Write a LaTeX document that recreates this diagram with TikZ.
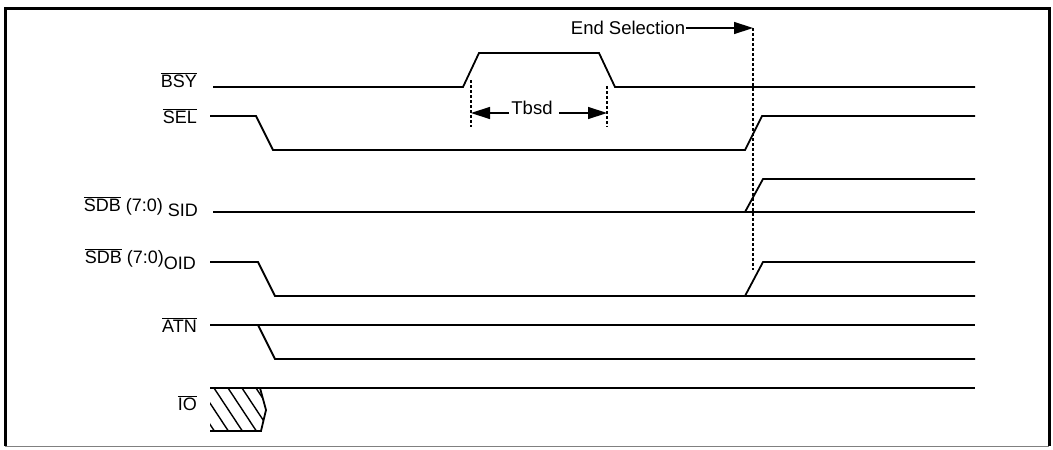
\documentclass[tikz,border=0pt]{standalone}
\usepackage{fontspec}
\setmainfont{Liberation Sans}
\usetikzlibrary{arrows.meta,positioning}
\newcommand\ovl[1]{$\overline{\mbox{#1}}$}

\begin{document}
\begin{tikzpicture}[x=1pt,y=-1pt,
  sig/.style={line width=1.8pt},
  guide/.style={line width=1.2pt,dash pattern=on 2.5pt off 2.5pt},
  lbl/.style={anchor=base east,inner sep=0pt,font=\fontsize{18}{20}\selectfont},
  txt/.style={inner sep=0pt,font=\fontsize{18.5}{20}\selectfont},
  dim/.style={line width=1.4pt,-{Triangle[length=19pt,width=12pt]}}]
  \useasboundingbox (0,0) rectangle (1053,450);
  \draw[line width=3pt] (5,446) -- (5,8) -- (1049,8) -- (1049,446);
  \draw[gray,line width=1pt] (5,446) -- (1049,446);

  \node[lbl] (bsy) at (197,87) {\ovl{BSY}};
  \node[lbl] (sel) at (197,123) {\ovl{SEL}};
  \node[lbl] (sid) at (198,211) {\ovl{SDB} (7:0) \raisebox{-5pt}{SID}};
  \node[lbl] (oid) at (196,263) {\ovl{SDB} (7:0)\raisebox{-6pt}{OID}};
  \node[lbl] (atn) at (197,332) {\ovl{ATN}};
  \node[lbl] (io) at (197,410) {\ovl{IO}};

  \draw[sig] (213,87) -- (463,87) -- (479,53) -- (599,53) -- (615,87) -- (975,87);
  \draw[sig] (210,116) -- (256,116) -- (273,150) -- (745,150) -- (762,116) -- (975,116);
  \draw[sig] (213,212) -- (975,212);
  \draw[sig] (745,212) -- (763,179) -- (975,179);
  \draw[sig] (210,262) -- (258,262) -- (275,296) -- (975,296);
  \draw[sig] (745,296) -- (763,262) -- (975,262);
  \draw[sig] (210,325) -- (975,325);
  \draw[sig] (258,325) -- (275,359) -- (975,359);
  \draw[sig] (210,388) -- (975,388);
  \begin{scope}
    \clip (210,388) -- (260,388) -- (266,410) -- (261,431) -- (210,431) -- cycle;
    \foreach \x in {-52,-38,...,270}
      \draw[line width=1.4pt] (\x,388) -- (\x+29,432);
  \end{scope}
  \draw[sig] (210,431) -- (261,431) -- (266,410) -- (260,388);

  \coordinate (rise) at (471,80);
  \coordinate (fall) at (607,86);
  \coordinate (endsel) at (753,28);
  \draw[guide] (rise) -- ++(0,47);
  \draw[guide] (fall) -- ++(0,41);
  \draw[guide] (endsel) -- (753,270);

  \node[txt] (tbsd) at (532,108) {Tbsd};
  \coordinate (tbsdL) at (471,113);
  \coordinate (tbsdR) at (607,113);
  \draw[dim] ([xshift=-2pt]tbsd.west |- tbsdL) -- (tbsdL);
  \draw[dim] ([xshift=6pt]tbsd.east |- tbsdR) -- (tbsdR);

  \node[txt] (endtxt) at (628,28) {End Selection};
  \draw[dim] ([xshift=1pt]endtxt.east |- endsel) -- (endsel);
\end{tikzpicture}
\end{document}
